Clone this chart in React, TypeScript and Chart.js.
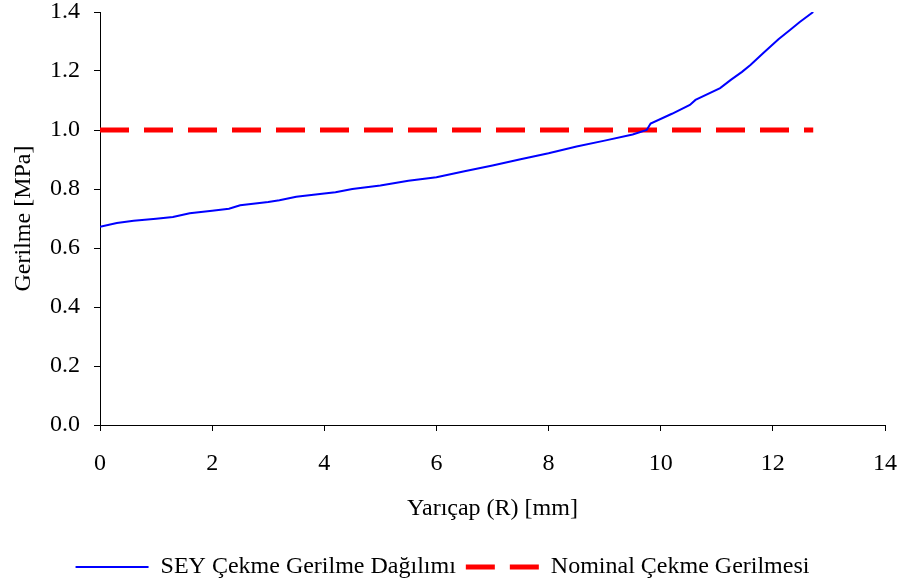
import React, { useEffect, useRef } from "react";
import { Chart, registerables } from "chart.js";

Chart.register(...registerables);

const radiusMm = [0, 0.3, 0.6, 1.0, 1.3, 1.6, 2.0, 2.3, 2.5, 3.0, 3.2, 3.5, 4.0, 4.2, 4.5, 5.0, 5.5, 6.0, 6.5, 7.0, 7.5, 8.0, 8.5, 9.0, 9.5, 9.75, 9.82, 10.2, 10.52, 10.62, 11.06, 11.25, 11.45, 11.6, 11.83, 12.1, 12.3, 12.48, 12.72];
const stressMPa = [0.672, 0.685, 0.692, 0.699, 0.705, 0.718, 0.726, 0.733, 0.745, 0.756, 0.762, 0.774, 0.785, 0.789, 0.8, 0.812, 0.828, 0.84, 0.86, 0.88, 0.901, 0.921, 0.944, 0.964, 0.985, 1.0, 1.022, 1.055, 1.085, 1.102, 1.142, 1.17, 1.197, 1.22, 1.261, 1.308, 1.338, 1.366, 1.4];
const nominalX = [0, 12.72];
const nominalY = [1.0, 1.0];
const seriesNames = ["SEY Çekme Gerilme Dağılımı", "Nominal Çekme Gerilmesi"];
const xTitle = "Yarıçap (R) [mm]";
const yTitle = "Gerilme [MPa]";

const FONT = "'Liberation Serif', 'Times New Roman', serif";
const legendDash = [[], [29, 15]];
const legendWidth = [2, 5];

export default function App() {
  const ref = useRef<HTMLCanvasElement | null>(null);
  useEffect(() => {
    if (!ref.current) return;
    const chart = new Chart(ref.current, {
      type: "line",
      data: {
        datasets: [
          {
            label: seriesNames[0],
            data: radiusMm.map((x, i) => ({ x, y: stressMPa[i] })),
            borderColor: "#0000ff",
            backgroundColor: "#0000ff",
            borderWidth: 2,
            pointRadius: 0,
            tension: 0,
          },
          {
            label: seriesNames[1],
            data: nominalX.map((x, i) => ({ x, y: nominalY[i] })),
            borderColor: "#ff0000",
            backgroundColor: "#ff0000",
            borderWidth: 5,
            borderDash: [29, 15],
            pointRadius: 0,
          },
        ],
      },
      options: {
        responsive: false,
        animation: false,
        layout: { padding: { top: 12, right: 16, left: 0, bottom: -5 } },
        plugins: {
          tooltip: { enabled: false },
          legend: {
            position: "bottom",
            labels: {
              color: "#000",
              font: { family: FONT, size: 24 },
              usePointStyle: true,
              pointStyle: "line",
              pointStyleWidth: 73,
              padding: 10,
              generateLabels: (c: any) => {
                const items = Chart.defaults.plugins.legend.labels.generateLabels(c);
                return items.map((it: any, i: number) => ({
                  ...it,
                  lineDash: legendDash[i],
                  lineWidth: legendWidth[i],
                  strokeStyle: i === 0 ? "#0000ff" : "#ff0000",
                  pointStyle: "line",
                }));
              },
            },
          },
        },
        scales: {
          x: {
            type: "linear",
            min: 0,
            max: 14,
            ticks: { stepSize: 2, color: "#000", font: { family: FONT, size: 24 }, padding: 18, maxRotation: 0 },
            grid: { drawOnChartArea: false, tickLength: 6, color: "#000" },
            border: { color: "#000", width: 1 },
            title: { display: true, text: xTitle, color: "#000", font: { family: FONT, size: 24 }, padding: { top: 0, bottom: 22 } },
            afterFit: (s: any) => {
              s.height = 120;
              s.paddingLeft = 0;
              s.paddingRight = 0;
              s.paddingTop = 0;
              s.paddingBottom = 0;
            },
          },
          y: {
            min: 0,
            max: 1.4,
            ticks: { stepSize: 0.2, color: "#000", font: { family: FONT, size: 24 }, padding: 14, callback: (v: any) => Number(v).toFixed(1) },
            grid: { drawOnChartArea: false, tickLength: 6, color: "#000" },
            border: { color: "#000", width: 1 },
            title: { display: true, text: yTitle, color: "#000", font: { family: FONT, size: 24 }, padding: { top: 9, bottom: 0 } },
            afterFit: (s: any) => {
              s.width = 100;
              s.paddingLeft = 0;
              s.paddingRight = 0;
              s.paddingTop = 0;
              s.paddingBottom = 0;
            },
          },
        },
      },
    });
    return () => chart.destroy();
  }, []);
  return (
    <div style={{ position: "absolute", left: 0, top: 0, width: 901, height: 584, background: "#fff" }}>
      <canvas ref={ref} width={901} height={584} />
    </div>
  );
}
